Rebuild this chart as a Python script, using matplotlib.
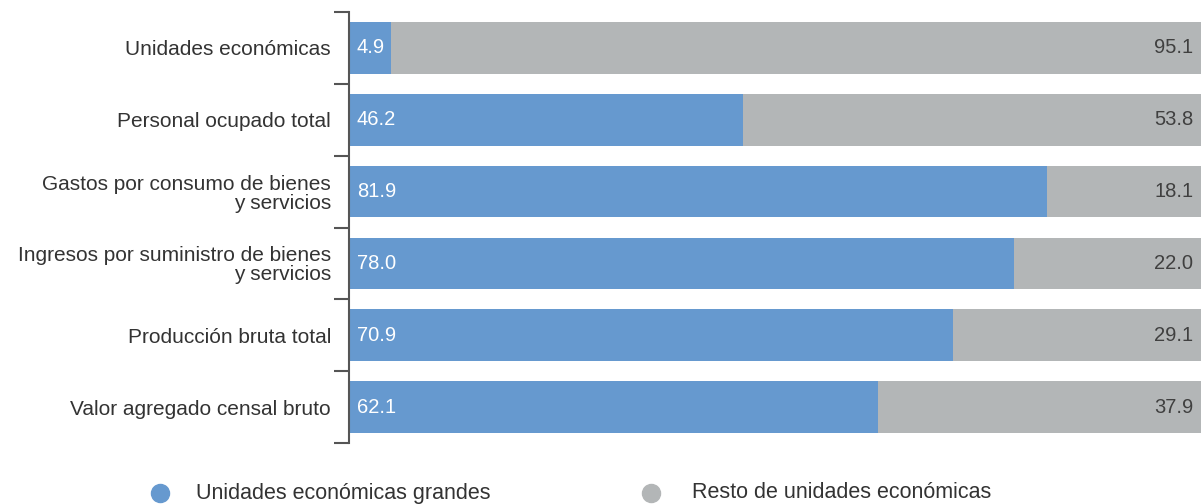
import numpy as np
import matplotlib
matplotlib.use('Agg')
import matplotlib.pyplot as plt
from matplotlib.lines import Line2D

plt.rcParams['font.family'] = ['Liberation Sans', 'DejaVu Sans']

categories = ['Unidades económicas',
              'Personal ocupado total',
              'Gastos por consumo de bienes\ny servicios',
              'Ingresos por suministro de bienes\ny servicios',
              'Producción bruta total',
              'Valor agregado censal bruto']
grandes = [4.9, 46.2, 81.9, 78.0, 70.9, 62.1]
resto = [95.1, 53.8, 18.1, 22.0, 29.1, 37.9]
legend_labels = ['Unidades económicas grandes', 'Resto de unidades económicas']

blue = '#6699cf'
gray = '#b3b6b7'
text_gray = '#404040'

fig = plt.figure(figsize=(12.01, 5.04), dpi=100)
ax = fig.add_axes([349 / 1201, 1 - 443 / 504, 1 - 349 / 1201, 431 / 504])

y = np.arange(len(categories))
h = 0.72
ax.barh(y, grandes, height=h, color=blue)
ax.barh(y, resto, left=grandes, height=h, color=gray)

for yi, g, r in zip(y, grandes, resto):
    ax.text(0.9, yi, f'{g:.1f}', color='white', fontsize=14.5, va='center', ha='left')
    ax.text(99.1, yi, f'{r:.1f}', color=text_gray, fontsize=14.5, va='center', ha='right')

ax.set_xlim(0, 100)
ax.set_ylim(len(categories) - 0.5, -0.5)
ax.set_yticks(y)
ax.set_yticklabels(categories, fontsize=15, color='#333333', linespacing=1.0)
ax.set_yticks(np.arange(-0.5, len(categories)), minor=True)
ax.tick_params(axis='y', which='major', length=0, pad=13)
ax.tick_params(axis='y', which='minor', length=11, width=1.5, color='#555555')
ax.set_xticks([])
for s in ['top', 'right', 'bottom']:
    ax.spines[s].set_visible(False)
ax.spines['left'].set_color('#555555')
ax.spines['left'].set_linewidth(1.5)

# legend
ly = 1 - 493 / 504
for xm, xt, c, lab in [(160, 196, blue, legend_labels[0]), (651, 692, gray, legend_labels[1])]:
    fig.add_artist(Line2D([xm / 1201], [ly], marker='o', markersize=13, color=c,
                          linestyle='none', transform=fig.transFigure))
    fig.text(xt / 1201, ly, lab, fontsize=15.5, color='#333333', va='center', ha='left')

fig.savefig('out.png', dpi=100)
